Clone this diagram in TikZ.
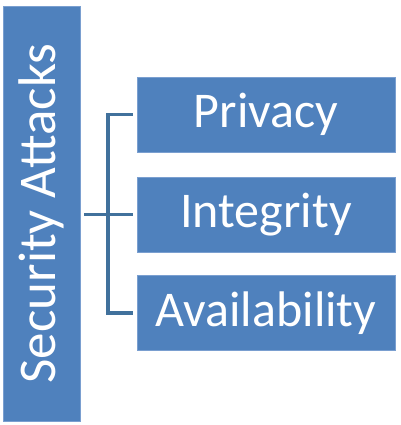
\documentclass[tikz,border=0pt]{standalone}
\usepackage{fontspec}
\setmainfont{Carlito}
\usetikzlibrary{positioning}
\definecolor{boxblue}{HTML}{4F81BD}
\definecolor{boxedge}{HTML}{7A9FD0}
\definecolor{linkblue}{HTML}{41719C}
\tikzset{
  box/.style={draw=boxedge, line width=0.4pt, fill=boxblue, text=white, inner sep=0pt,
    font=\fontsize{50}{58}\selectfont},
  leaf/.style={box, minimum width=258pt, minimum height=75pt},
  link/.style={draw=linkblue, line width=3.6pt}
}

\begin{document}
\begin{tikzpicture}[x=1pt,y=-1pt]
\useasboundingbox (0,0) rectangle (400,425);

% Root: tall box with rotated label
\node[box, minimum width=77pt, minimum height=415pt, font=\fontsize{53}{60}\selectfont] (sec) at (41.5,213.5) {\raisebox{0pt}{\rotatebox{90}{\raisebox{-2pt}{Security Attacks}}}};

% Leaves
\node[leaf] (priv)  at (266,114.5) {Privacy};
\node[leaf] (integ) at (266,214.5) {Integrity};
\node[leaf] (avail) at (266,313)   {Availability};

% Bracket
\coordinate (bus) at (108,213);
\draw[link] ([xshift=4pt]sec.east |- integ.west) -- ([xshift=-4pt]integ.west);
\draw[link] ([xshift=-4pt]priv.west) -| (bus) |- ([xshift=-4pt]avail.west);

\end{tikzpicture}
\end{document}
